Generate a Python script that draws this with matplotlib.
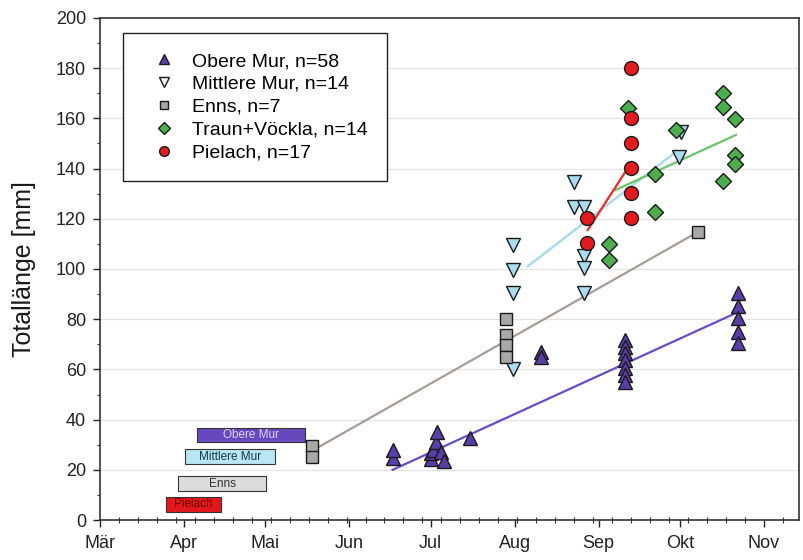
import numpy as np
import matplotlib
matplotlib.use("Agg")
import matplotlib.pyplot as plt
from matplotlib.lines import Line2D

plt.rcParams['font.family'] = ['Liberation Sans', 'DejaVu Sans']

# x values are day of year (non-leap year), y values total length in mm
month_days = [60, 91, 121, 152, 182, 213, 244, 274, 305]
month_labels = ['Mär', 'Apr', 'Mai', 'Jun', 'Jul', 'Aug', 'Sep', 'Okt', 'Nov']

obere_x = [168, 168, 182, 182, 183, 184, 184.5, 186, 187, 196.7, 222.8, 222.8,
           253.6, 253.6, 253.6, 253.6, 253.6, 253.6, 253.6,
           295.4, 295.4, 295.4, 295.4, 295.4]
obere_y = [24.7, 27.9, 24.3, 26.5, 28, 31, 35, 27, 23.5, 32.7, 67, 65,
           71.7, 69, 66.4, 63.7, 60.6, 57.8, 55.1,
           90.6, 85.3, 80.4, 75, 70.4]

mittlere_x = [212.6, 212.6, 212.6, 212.6, 234.8, 234.8, 238.5, 238.5, 238.5, 238.5,
              274.3, 273.6]
mittlere_y = [109.6, 99.6, 90.4, 60, 134.7, 124.7, 124.7, 105, 100.4, 90.4,
              154.7, 144.6]

enns_x = [138.3, 138.3, 210, 210, 210, 210, 280.6]
enns_y = [29.5, 25, 80, 73.7, 69.7, 65, 114.7]

traun_x = [247.7, 247.7, 254.7, 264.7, 264.7, 272.5, 290, 290, 290, 294.3, 294.3, 294.3]
traun_y = [110, 103.5, 164, 138, 122.7, 155.4, 170, 164.7, 135, 159.8, 145.4, 141.8]

pielach_x = [239.6, 239.6, 255.9, 255.9, 255.9, 255.9, 255.9, 255.9]
pielach_y = [120.3, 110.2, 180, 160, 150.2, 140.2, 130.3, 120.3]

# trend lines (start, end)
obere_trend_x, obere_trend_y = [168, 295.4], [20, 82.8]
mittlere_trend_x, mittlere_trend_y = [217.8, 272], [101, 146.2]
enns_trend_x, enns_trend_y = [140.6, 280.6], [29, 114.7]
traun_trend_x, traun_trend_y = [250.3, 294.7], [131.5, 153.4]
pielach_trend_x, pielach_trend_y = [240, 253.6], [115.5, 138.2]

# period bars: name, start day, end day, centre value
bar_names = ['Obere Mur', 'Mittlere Mur', 'Enns', 'Pielach']
bar_start = [95.8, 91.4, 88.8, 84.4]
bar_end = [135.8, 124.7, 121.3, 104.7]
bar_level = [33.8, 25.3, 14.5, 6.2]
bar_colors = ['#6748bf', '#b9e6f3', '#dcdcdc', '#e3181d']
bar_text_colors = ['#dcd4f4', '#183848', '#303030', '#6e0000']

c_purple = '#5a3ea8'
c_cyan = '#aadcef'
c_gray = '#a9a7a7'
c_green = '#4cae4c'
c_red = '#e51a1e'

fig = plt.figure(figsize=(8.04, 5.6), dpi=100)
ax = fig.add_axes([0.1244, 0.0714, 0.8694, 0.8965])

ax.set_xlim(60, 318)
ax.set_ylim(0, 200)

for y in range(20, 200, 20):
    ax.axhline(y, color='#e4e4e4', lw=0.9, zorder=0)

# trend lines
ax.plot(obere_trend_x, obere_trend_y, color='#6a4bc9', lw=1.6, zorder=2)
ax.plot(mittlere_trend_x, mittlere_trend_y, color=c_cyan, lw=1.8, zorder=2)
ax.plot(enns_trend_x, enns_trend_y, color='#a89c96', lw=1.6, zorder=2)
ax.plot(traun_trend_x, traun_trend_y, color='#6cc46a', lw=1.6, zorder=2)
ax.plot(pielach_trend_x, pielach_trend_y, color='#f02a24', lw=1.6, zorder=2)

# period bars
for name, s, e, lev, fc, tc in zip(bar_names, bar_start, bar_end, bar_level,
                                   bar_colors, bar_text_colors):
    ax.barh(lev, e - s, left=s, height=5.8, color=fc, edgecolor='#333333',
            lw=0.8, zorder=3)
    ax.text((s + e) / 2, lev, name, ha='center', va='center', fontsize=8.5,
            color=tc, zorder=4)

mk = dict(linestyle='none', markeredgecolor='#1a1a1a', markeredgewidth=1.0, zorder=5)
ax.plot(obere_x, obere_y, marker='^', ms=10, color=c_purple, **mk)
ax.plot(mittlere_x, mittlere_y, marker='v', ms=10, color=c_cyan, **mk)
ax.plot(enns_x, enns_y, marker='s', ms=8.5, color=c_gray, **mk)
ax.plot(traun_x, traun_y, marker='D', ms=8.5, color=c_green, **mk)
ax.plot(pielach_x, pielach_y, marker='o', ms=10, color=c_red, **mk)

# legend
lk = dict(linestyle='none', markeredgecolor='#1a1a1a', markeredgewidth=1.0)
handles = [
    Line2D([], [], marker='^', ms=7, color=c_purple, **lk),
    Line2D([], [], marker='v', ms=7, color='#f4fafc', **lk),
    Line2D([], [], marker='s', ms=6, color=c_gray, **lk),
    Line2D([], [], marker='D', ms=6, color=c_green, **lk),
    Line2D([], [], marker='o', ms=7, color=c_red, **lk),
]
labels = ['Obere Mur, n=58', 'Mittlere Mur, n=14', 'Enns, n=7',
          'Traun+Vöckla, n=14', 'Pielach, n=17']
leg = ax.legend(handles, labels, loc='upper left', bbox_to_anchor=(0.033, 0.97),
                borderaxespad=0, fontsize=14, frameon=True, fancybox=False,
                edgecolor='#222222', framealpha=1, labelspacing=0.27,
                borderpad=1.0, handlelength=2.2, handletextpad=0.35)
leg.get_frame().set_linewidth(1.0)

ax.set_xticks(month_days)
ax.set_xticklabels(month_labels)
ax.set_xticks(np.arange(60, 318, 7), minor=True)
ax.set_yticks(range(0, 201, 20))
ax.set_yticks(range(10, 200, 20), minor=True)

ax.tick_params(axis='both', which='major', labelsize=13, colors='#222222',
               width=1.0, length=5)
ax.tick_params(axis='x', which='major', pad=6)
ax.tick_params(axis='x', which='minor', direction='inout', length=4, width=0.8,
               color='#333333')
ax.tick_params(axis='y', which='minor', length=2.5, width=0.8, color='#333333')
ax.tick_params(axis='y', which='major', pad=5)

for sp in ax.spines.values():
    sp.set_color('#333333')
    sp.set_linewidth(1.2)

ax.set_ylabel('Totallänge [mm]', fontsize=18, labelpad=14, color='#1a1a1a')

fig.savefig('out.png', dpi=100)
